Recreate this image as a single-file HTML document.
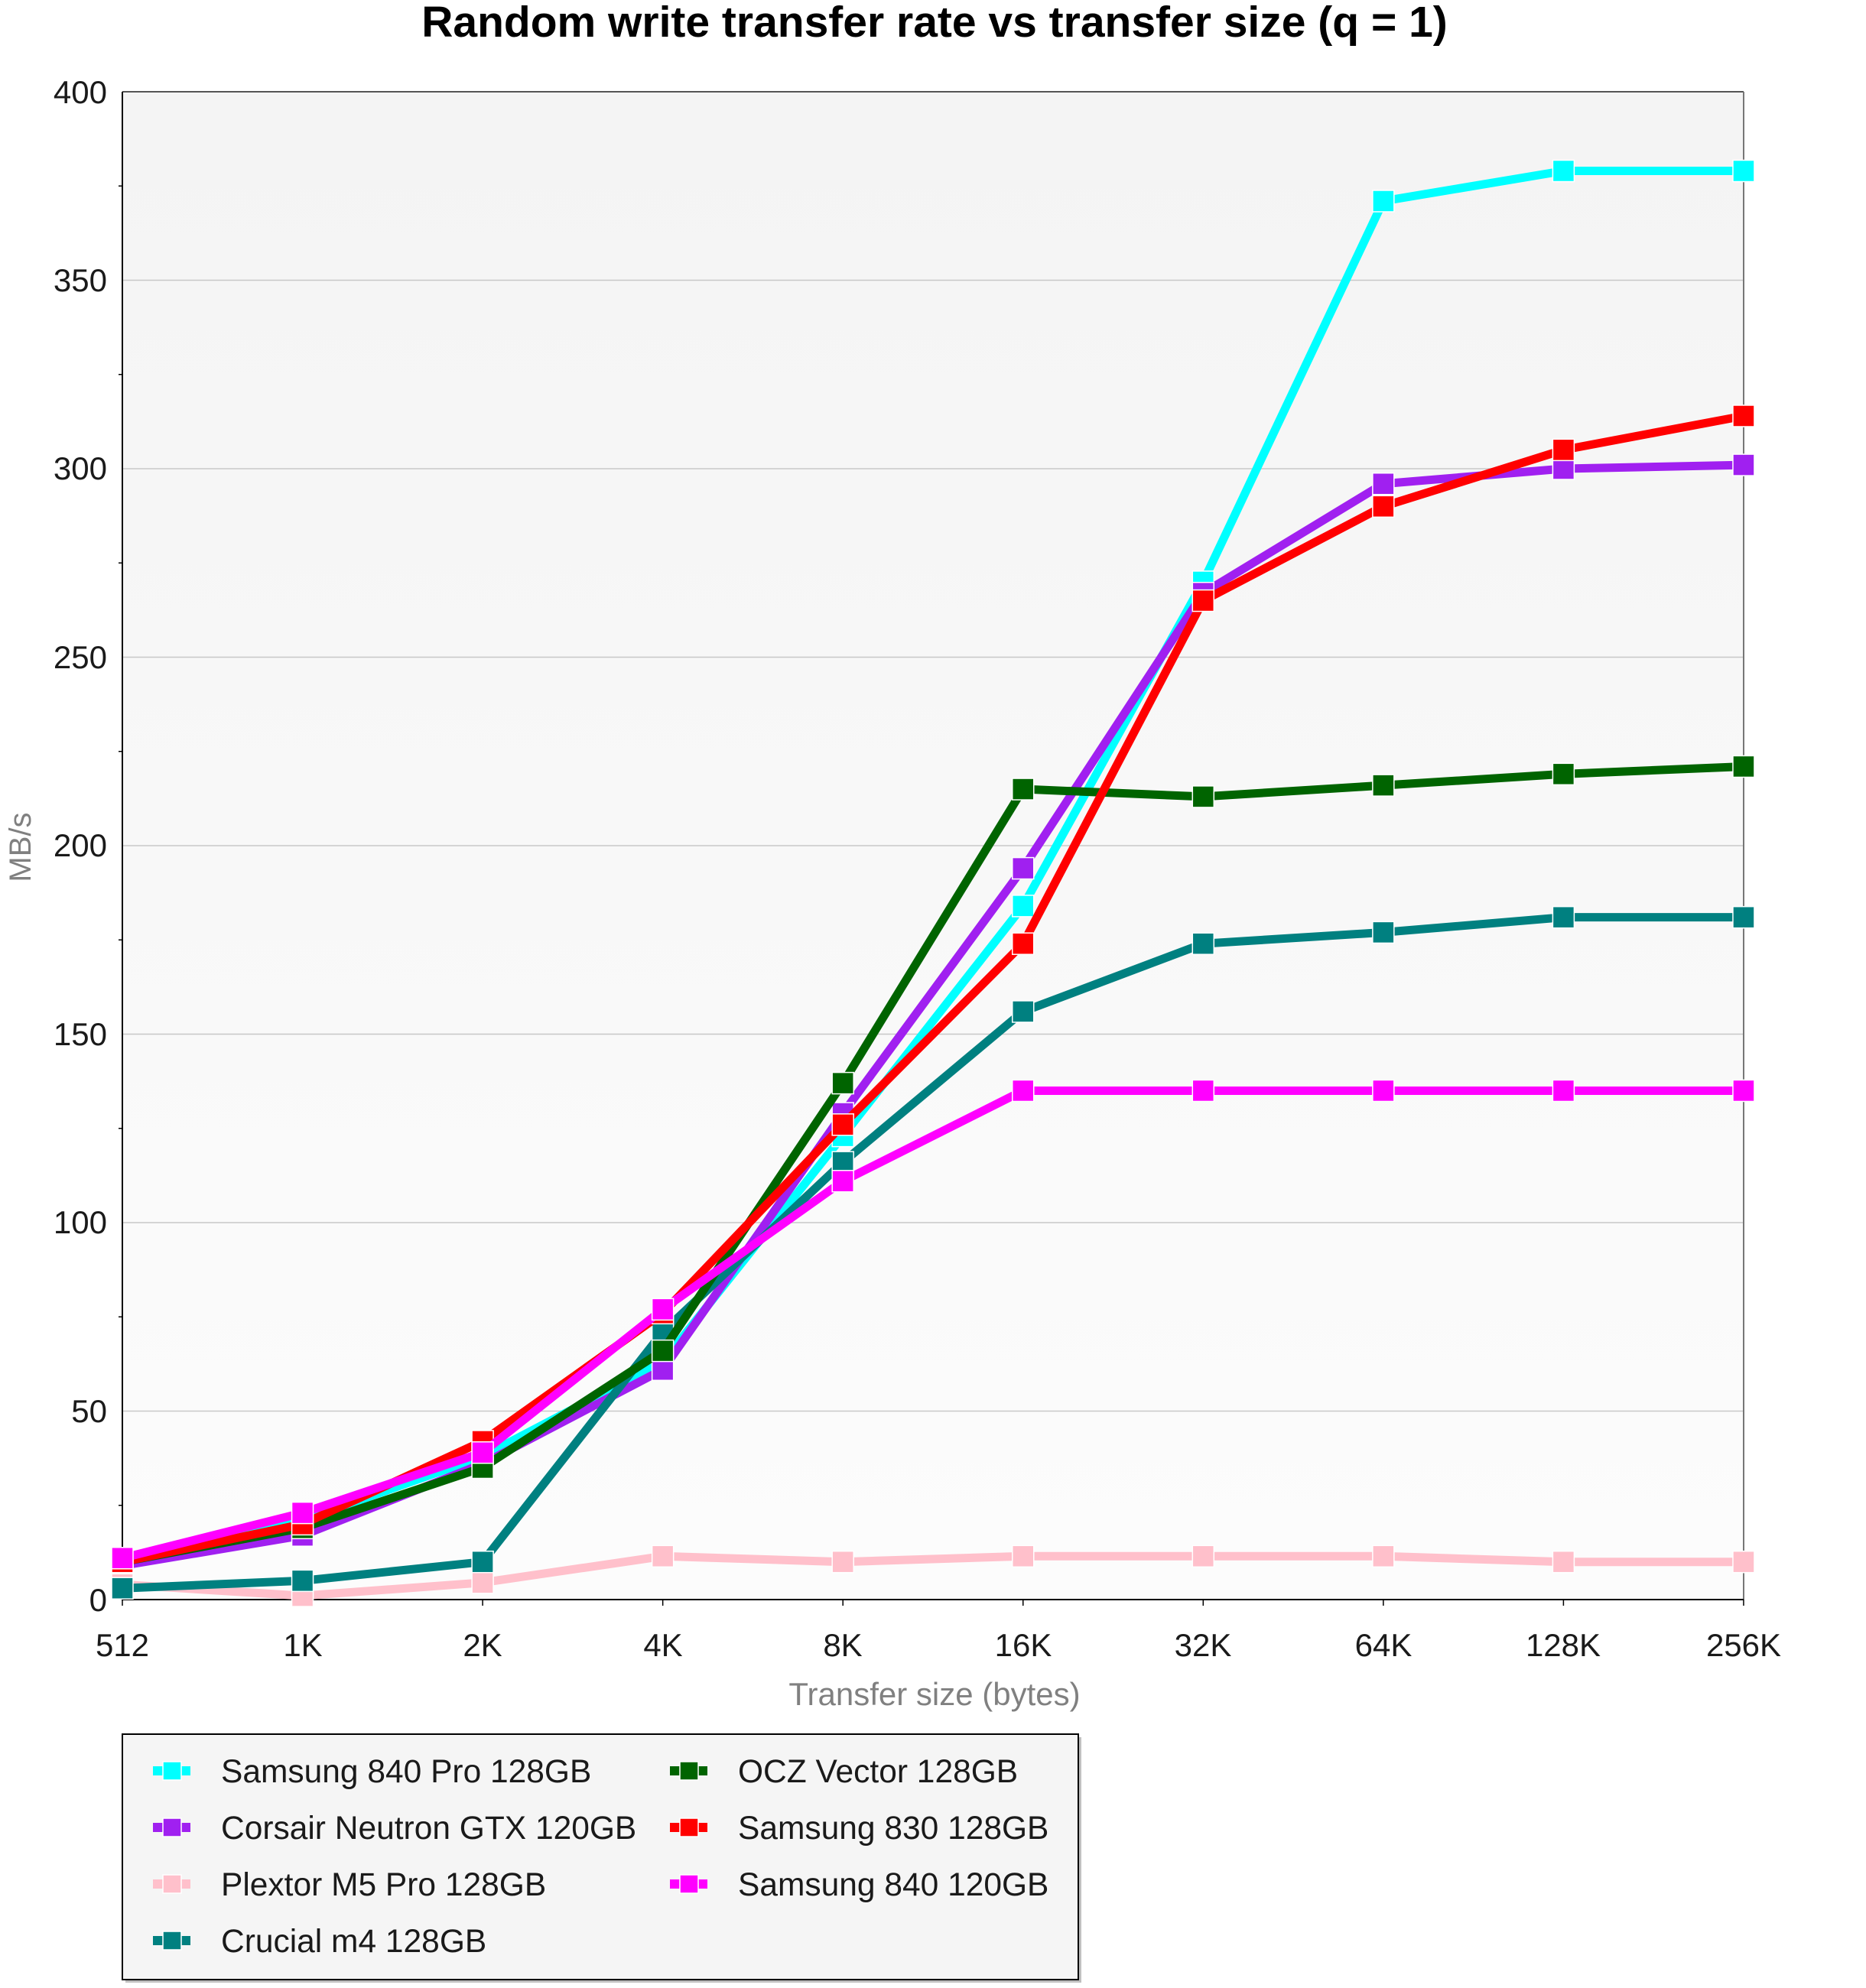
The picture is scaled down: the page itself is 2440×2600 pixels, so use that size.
<!DOCTYPE html>
<html><head><meta charset="utf-8"><style>
html,body{margin:0;padding:0;background:#fff;}
svg{display:block;font-family:"Liberation Sans",Arial,sans-serif;}
</style></head><body>
<svg id="c" width="2440" height="2600" xmlns="http://www.w3.org/2000/svg">
<defs><linearGradient id="bg" x1="0" y1="0" x2="0" y2="1"><stop offset="0" stop-color="#f4f4f4"/><stop offset="1" stop-color="#fcfcfc"/></linearGradient></defs>
<text x="1222" y="48" text-anchor="middle" font-size="57" font-weight="bold" fill="#000">Random write transfer rate vs transfer size (q = 1)</text>
<rect x="160" y="120" width="2120" height="1972" fill="url(#bg)"/>
<g id="grid" stroke="#c8c8c8" stroke-width="1.5"></g>
<line x1="160" y1="120" x2="2280" y2="120" stroke="#555" stroke-width="2"/>
<line x1="2280" y1="120" x2="2280" y2="2092" stroke="#777" stroke-width="2"/>
<line x1="160" y1="120" x2="160" y2="2093" stroke="#000" stroke-width="2"/>
<line x1="159" y1="2092" x2="2280" y2="2092" stroke="#000" stroke-width="2"/>
<g font-size="42" fill="#1a1a1a" text-anchor="end">
<text x="140" y="2107">0</text><text x="140" y="1860">50</text><text x="140" y="1613">100</text><text x="140" y="1367">150</text><text x="140" y="1120">200</text><text x="140" y="874">250</text><text x="140" y="627">300</text><text x="140" y="381">350</text><text x="140" y="135">400</text>
</g>
<g font-size="42" fill="#1a1a1a" text-anchor="middle">
<text x="160" y="2166">512</text><text x="396" y="2166">1K</text><text x="631" y="2166">2K</text><text x="867" y="2166">4K</text><text x="1102" y="2166">8K</text><text x="1338" y="2166">16K</text><text x="1573" y="2166">32K</text><text x="1809" y="2166">64K</text><text x="2044" y="2166">128K</text><text x="2280" y="2166">256K</text>
</g>
<text x="1222" y="2230" text-anchor="middle" font-size="42" fill="#808080">Transfer size (bytes)</text>
<text transform="translate(40,1108) rotate(-90)" text-anchor="middle" font-size="40" fill="#808080">MB/s</text>
<g id="series"></g>
<rect x="164" y="2272" width="1250" height="321" fill="#c0c0c0"/>
<rect x="160" y="2268" width="1250" height="321" fill="#f5f5f5" stroke="#000" stroke-width="2"/>
<g id="leg"></g>
<g font-size="42.5" fill="#1a1a1a">
<text x="289" y="2331">Samsung 840 Pro 128GB</text>
<text x="289" y="2405">Corsair Neutron GTX 120GB</text>
<text x="289" y="2479">Plextor M5 Pro 128GB</text>
<text x="289" y="2553">Crucial m4 128GB</text>
<text x="965" y="2331">OCZ Vector 128GB</text>
<text x="965" y="2405">Samsung 830 128GB</text>
<text x="965" y="2479">Samsung 840 120GB</text>
</g>
</svg>
<script>
var NS="http://www.w3.org/2000/svg";
function el(p,t,a){var e=document.createElementNS(NS,t);for(var k in a)e.setAttribute(k,a[k]);p.appendChild(e);return e;}
var g=document.getElementById("grid");
for(var v=50;v<400;v+=50){var y=2092-v*4.93;el(g,"line",{x1:160,y1:y,x2:2280,y2:y});}
for(var v=25;v<400;v+=50){var y=2092-v*4.93;el(g,"line",{x1:155,y1:y,x2:160,y2:y,stroke:"#000"});}
for(var i=0;i<10;i++){var x=160+i*235.55;el(g,"line",{x1:x,y1:2092,x2:x,y2:2100,stroke:"#000"});}
var S=[
["#00ffff",[10,21,38,63,123,184,270,371,379,379]],
["#a020f0",[9,17,36,61,129,194,267,296,300,301]],
["#ffc0cb",[4,1,4.5,11.5,10,11.5,11.5,11.5,10,10]],
["#008080",[3,5,10,71,116,156,174,177,181,181]],
["#006400",[10,19,35,66,137,215,213,216,219,221]],
["#ff0000",[10,20,42,76,126,174,265,290,305,314]],
["#ff00ff",[11,23,39,77,111,135,135,135,135,135]]];
var sg=document.getElementById("series");
S.forEach(function(s){
 var pts=s[1].map(function(v,i){return [160+i*235.55,2092-v*4.93];});
 el(sg,"polyline",{points:pts.map(function(p){return p.join(",");}).join(" "),fill:"none",stroke:s[0],"stroke-width":11,"stroke-linejoin":"round"});
 pts.forEach(function(p){el(sg,"rect",{x:p[0]-14,y:p[1]-14,width:28,height:28,fill:s[0],stroke:"#fff","stroke-width":1.5});});
});
var lg=document.getElementById("leg");
var L=[[200,2316,0],[200,2390,1],[200,2464,2],[200,2538,3],[876,2316,4],[876,2390,5],[876,2464,6]];
L.forEach(function(l){var c=S[l[2]][0];
 el(lg,"rect",{x:l[0],y:l[1]-6,width:49,height:12,fill:c});
 el(lg,"rect",{x:l[0]+13,y:l[1]-12,width:24,height:24,fill:c,stroke:"#fff","stroke-width":1.5});});
</script>
</body></html>
